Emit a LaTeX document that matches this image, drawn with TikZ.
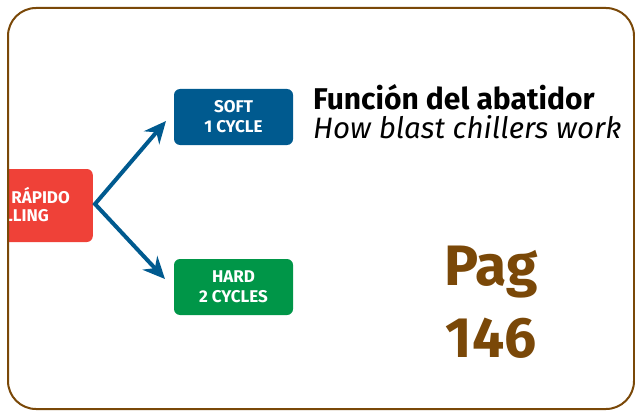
\documentclass[tikz,border=0pt]{standalone}
\usepackage{fontspec}
\setmainfont{Fira Sans}
\usepackage{tikz}
\usetikzlibrary{arrows.meta}

\definecolor{framebrown}{RGB}{122,72,8}
\definecolor{chillred}{RGB}{239,65,56}
\definecolor{softblue}{RGB}{0,90,143}
\definecolor{hardgreen}{RGB}{0,150,72}

\tikzset{
  cyclebox/.style={rounded corners=6pt, minimum width=119pt, minimum height=56pt,
    text=white, align=center, inner sep=0pt, font=\bfseries\fontsize{17}{20}\selectfont},
  redtext/.style={text=white, inner sep=0pt, font=\bfseries\fontsize{17}{20}\selectfont}
}

\begin{document}
\begin{tikzpicture}[x=1pt, y=-1pt, >={Stealth[length=22pt,width=20pt]}]
\useasboundingbox (0,0) rectangle (635,412);
% red block, cut off by the frame
\begin{scope}
  \clip (9,0) rectangle (635,412);
  \node[cyclebox, fill=chillred, minimum width=150pt, minimum height=73pt, anchor=east] (rapid) at (93,205.5) {};
  \node[redtext, anchor=base east] (rapidtop) at (70,203) {RÁPIDO};
  \node[redtext, anchor=base east] (rapidbot) at (49,221) {CHILLING};
\end{scope}
\node[cyclebox, fill=softblue]  (soft) at (233.5,117) {SOFT\\1 CYCLE};
\node[cyclebox, fill=hardgreen] (hard) at (233.5,287) {HARD\\2 CYCLES};
\coordinate (fork) at (95,204);
\coordinate (softtip) at (166,121);
\coordinate (hardtip) at (165,279);
\draw[<->, softblue, line width=4pt] (softtip) -- (fork) -- (hardtip);
% titles
\node[anchor=base west, inner sep=0pt, font=\bfseries\fontsize{30}{34}\selectfont] (title) at (313,109.5) {Función del abatidor};
\node[anchor=base west, inner sep=0pt, font=\itshape\fontsize{29.5}{34}\selectfont] (subtitle) at (313,138) {How blast chillers work};
\node[align=center, inner sep=0pt, text=framebrown, font=\bfseries\fontsize{57}{72}\selectfont] (page) at (491,302) {Pag\\146};
% frame
\draw[framebrown, line width=2pt, rounded corners=28pt] (8,8) rectangle (634,409);
\end{tikzpicture}
\end{document}
